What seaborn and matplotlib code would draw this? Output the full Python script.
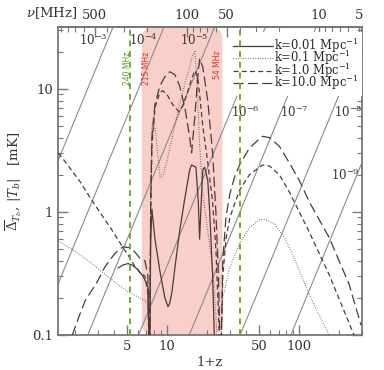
import numpy as np
import matplotlib
matplotlib.use("Agg")
import matplotlib.pyplot as plt
import seaborn as sns
from matplotlib.patches import FancyBboxPatch

sns.set_theme(style="ticks")
plt.rcParams['font.family'] = ['DejaVu Serif']
plt.rcParams['mathtext.fontset'] = 'dejavuserif'

# ---------------- data (1+z, |T| in mK) ----------------
# k = 10 Mpc^-1 (long dashed)
k10_x = [1.92, 2.21, 2.41, 2.97, 3.41, 4.05, 4.66, 5.26, 5.74, 6.26, 6.83, 7.19, 7.40, 7.55, 7.71, 8.13, 8.86, 9.66, 10.5, 11.5, 12.5, 13.7, 14.9, 15.4, 16.3, 17.1, 17.7, 18.7, 20.4, 22.2, 23.5, 24.6, 25.5, 26.5, 28.0, 30.0, 32.5, 35.5, 42.2, 52.9, 60.0, 71.1, 84.5, 100.5, 120, 169, 239, 295]
k10_y = [0.0995, 0.15, 0.19, 0.27, 0.36, 0.46, 0.52, 0.51, 0.47, 0.42, 0.40, 0.30, 0.05, 1.2, 4.0, 7.5, 10.5, 12.5, 13.7, 13.0, 10.5, 7.0, 4.0, 3.0, 6.0, 12.0, 17.5, 15.0, 8.0, 3.0, 1.0, 0.3, 0.05, 0.4, 0.9, 1.4, 1.9, 2.4, 3.3, 4.1, 4.0, 3.4, 2.5, 1.8, 1.2, 0.62, 0.26, 0.12]

# k = 1 Mpc^-1 (short dashed)
k1_x = [1.51, 1.70, 2.21, 2.63, 3.13, 3.72, 4.42, 5.26, 5.74, 6.26, 6.83, 7.19, 7.40, 7.55, 7.71, 8.13, 8.86, 9.3, 10.0, 11.0, 12.3, 13.2, 14.4, 15.4, 16.3, 17.1, 17.7, 18.7, 20.4, 22.2, 23.5, 24.6, 25.5, 26.5, 28.0, 30.0, 35.5, 42.2, 52.9, 60.0, 71.1, 84.5, 100.5, 120, 169, 261]
k1_y = [3.0, 2.55, 1.75, 1.30, 0.98, 0.75, 0.56, 0.42, 0.36, 0.32, 0.30, 0.22, 0.05, 1.0, 3.5, 7.0, 9.3, 9.6, 9.0, 7.5, 6.5, 7.2, 9.5, 12.0, 14.0, 12.5, 9.0, 5.0, 2.5, 1.2, 0.5, 0.15, 0.05, 0.3, 0.6, 0.9, 1.5, 2.0, 2.4, 2.35, 2.0, 1.45, 1.0, 0.68, 0.31, 0.1]

# k = 0.1 Mpc^-1 (dotted)
k01_x = [1.51, 2.0, 2.63, 3.41, 4.42, 5.26, 6.26, 6.83, 7.19, 7.40, 7.55, 7.71, 7.95, 8.4, 8.9, 9.4, 10.2, 11.5, 12.5, 13.7, 14.9, 15.6, 16.3, 17.1, 17.7, 18.7, 20.4, 22.2, 23.5, 24.6, 25.5, 26.5, 29.8, 35.5, 42.2, 50.2, 54.8, 65.1, 77.5, 92.2, 120, 169, 184]
k01_y = [0.58, 0.48, 0.39, 0.31, 0.25, 0.22, 0.20, 0.19, 0.17, 0.05, 1.5, 5.0, 5.8, 3.5, 1.9, 2.0, 2.8, 5.0, 7.5, 11.0, 15.0, 18.5, 20.0, 9.0, 3.5, 1.4, 0.7, 0.35, 0.15, 0.05, 0.05, 0.2, 0.35, 0.55, 0.75, 0.86, 0.87, 0.8, 0.62, 0.42, 0.21, 0.1, 0.08]

# k = 0.01 Mpc^-1 (solid)
k001_x = [4.27, 4.66, 5.08, 5.45, 6.04, 6.59, 7.19, 7.40, 7.55, 7.71, 8.13, 8.86, 9.66, 10.2, 10.5, 10.9, 11.5, 12.5, 13.7, 14.9, 15.4, 16.0, 16.6, 17.3, 17.7, 18.2, 18.7, 19.3, 20.4, 21.1, 22.2, 23.0, 24.0]
k001_y = [0.35, 0.37, 0.38, 0.37, 0.34, 0.30, 0.25, 0.05, 0.6, 1.05, 0.60, 0.33, 0.20, 0.17, 0.18, 0.22, 0.35, 0.70, 1.3, 2.2, 2.4, 2.35, 2.3, 1.2, 0.6, 1.2, 2.2, 2.3, 1.8, 1.0, 0.3, 0.08, 0.02]

# power-law reference lines: endpoints (1+z, mK) and labels
pl_labels = ["$10^{-3}$", "$10^{-4}$", "$10^{-5}$", "$10^{-6}$", "$10^{-7}$", "$10^{-8}$", "$10^{-9}$"]
pl_x0 = [0.177, 0.43, 1.04, 2.52, 6.10, 14.8, 35.8]
pl_x1 = [6.10, 14.8, 35.8, 86.9, 210, 510, 1236]
pl_y0 = 0.01
pl_y1 = 100.0
pl_lab_x = [2.77, 6.6, 16.0, 39.4, 92.0, 235, 223]
pl_lab_y = [24.9, 24.9, 24.9, 6.45, 6.45, 6.45, 1.99]

# frequency markers
band_lo, band_hi = 6.45, 26.3       # 215 MHz .. 54 MHz
green_x = [5.3, 35.5]               # 240 MHz, 40 MHz
nu_ticks = [500, 100, 50, 10, 5]

# ---------------- figure ----------------
fig = plt.figure(figsize=(3.84, 3.70), dpi=100)
ax = fig.add_axes([58/384, 1-335/370, (362-58)/384, (335-27)/370])
ax.set_xscale('log'); ax.set_yscale('log')
ax.set_xlim(1.5, 300); ax.set_ylim(0.1, 10**1.5)

curve_col = '#4d3b3b'
line_col = '#8a8a8a'
pink = '#f9cfca'

x0d = np.log10(1.5); span = np.log10(300) - x0d
bx0 = (np.log10(band_lo) - x0d) / span
bx1 = (np.log10(band_hi) - x0d) / span
band = FancyBboxPatch((bx0, 0.0), bx1 - bx0, 1.0,
                      boxstyle="round,pad=0,rounding_size=0.04",
                      transform=ax.transAxes, fc=pink, ec='none', zorder=0,
                      mutation_aspect=304/308)
ax.add_patch(band)

for x0, x1 in zip(pl_x0, pl_x1):
    sns.lineplot(x=[x0, x1], y=[pl_y0, pl_y1], ax=ax, color=line_col, lw=0.8, zorder=1)
for lx, ly, lab in zip(pl_lab_x, pl_lab_y, pl_labels):
    ax.text(lx, ly, lab, fontsize=8.5, ha='center', va='center', color='#333333', zorder=7)

ax.plot(k001_x, k001_y, color=curve_col, lw=0.9, ls='-', label='k=0.01 Mpc$^{-1}$', zorder=3)
ax.plot(k01_x, k01_y, color=curve_col, lw=0.8, ls=(0, (0.6, 1.6)), label='k=0.1 Mpc$^{-1}$', zorder=3)
ax.plot(k1_x, k1_y, color=curve_col, lw=0.9, ls=(0, (4, 2.6)), label='k=1.0 Mpc$^{-1}$', zorder=3)
ax.plot(k10_x, k10_y, color=curve_col, lw=0.9, ls=(0, (8, 3.5)), label='k=10.0 Mpc$^{-1}$', zorder=3)

for gx in green_x:
    ax.axvline(gx, color='#6aab35', lw=1.4, ls=(0, (3, 2.5)), zorder=8)

ax.text(5.0, 14.5, '240 MHz', rotation=90, color='#5a9e2a', fontsize=5.5, ha='center', va='center', family='DejaVu Sans')
ax.text(7.0, 14.5, '215 MHz', rotation=90, color='#e53222', fontsize=5.5, ha='center', va='center', family='DejaVu Sans')
ax.text(24.2, 15.5, '54 MHz', rotation=90, color='#e53222', fontsize=5.5, ha='center', va='center', family='DejaVu Sans')
ax.text(38.5, 15.5, '40 MHz', rotation=90, color='#5a9e2a', fontsize=5.5, ha='center', va='center', family='DejaVu Sans')

leg = ax.legend(loc='upper right', bbox_to_anchor=(1.0, 0.985), fontsize=8.3, frameon=True,
                handlelength=3.4, handletextpad=0.1, labelspacing=-0.55, borderpad=0.35,
                borderaxespad=0.0, fancybox=False)
leg.get_frame().set_edgecolor('none'); leg.get_frame().set_facecolor('white'); leg.get_frame().set_alpha(1)
leg.set_zorder(6)

ax.set_xticks([5, 10, 50, 100]); ax.set_xticklabels(['5', '10', '50', '100'])
ax.set_yticks([0.1, 1, 10]); ax.set_yticklabels(['0.1', '1', '10'])
for s in ax.spines.values():
    s.set_color('#777777'); s.set_linewidth(1.3)
ax.tick_params(which='both', direction='in', color='#777777', right=True, labelsize=9.5, labelcolor='#333333')
ax.tick_params(which='major', length=7, width=1.0)
ax.tick_params(which='minor', length=3.5, width=0.8)

sec = ax.secondary_xaxis('top', functions=(lambda x: 1420.0/x, lambda x: 1420.0/x))
sec.set_xticks(nu_ticks); sec.set_xticklabels([str(v) for v in nu_ticks])
sec.tick_params(which='both', direction='in', color='#777777', labelsize=9.5, labelcolor='#333333')
sec.tick_params(which='major', length=7, width=1.0)
sec.tick_params(which='minor', length=3.5, width=0.8)
sec.spines['top'].set_color('#777777'); sec.spines['top'].set_linewidth(1.3)
ax.text(-0.02, 1.045, r'$\nu$[MHz]', transform=ax.transAxes, fontsize=9.5, ha='center', va='center', color='#333333')

ax.set_xlabel('1+z', fontsize=9.5, color='#333333', labelpad=2)
ax.set_ylabel(r'$\overline{\Delta}_{T_b}$, $|T_b|$   [mK]', fontsize=9.5, color='#333333', labelpad=6)

fig.savefig('out.png', dpi=100)
